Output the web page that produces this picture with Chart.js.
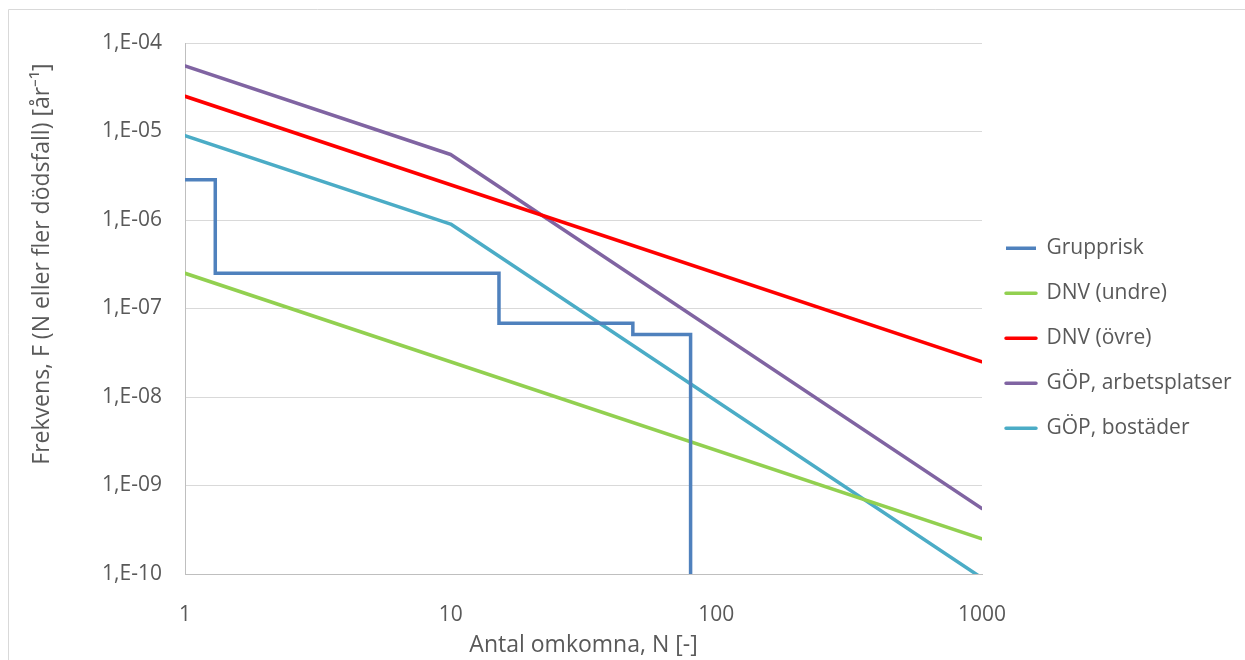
<!DOCTYPE html>
<html>
<head>
<meta charset="utf-8">
<script src="https://cdn.jsdelivr.net/npm/chart.js@4.4.1/dist/chart.umd.min.js"></script>
<style>
	html, body { margin: 0; padding: 0; background: #fff; }
	canvas { display: block; }
</style>
</head>
<body>
<canvas id="fnChart" width="1245" height="660"></canvas>
<script>
'use strict'

// N values (x)
const nDnv = [1, 1000];
const nGop = [1, 10, 1000];
const nGroup = [1, 1.3, 15.2, 48.5, 80];

// F values (y), per year
const fGroup = [2.85e-6, 2.5e-7, 6.8e-8, 5.1e-8, 1e-11];
const fDnvLow = [2.5e-7, 2.5e-10];
const fDnvHigh = [2.5e-5, 2.5e-8];
const fGopWork = [5.5e-5, 5.5e-6, 5.5e-10];
const fGopHome = [9e-6, 9e-7, 9e-11];

const seriesNames = ['Grupprisk', 'DNV (undre)', 'DNV (övre)', 'GÖP, arbetsplatser', 'GÖP, bostäder'];

// axis ticks
const xTicks = [1, 10, 100, 1000];
const xTickLabels = ['1', '10', '100', '1000'];
const yTicks = [1e-10, 1e-9, 1e-8, 1e-7, 1e-6, 1e-5, 1e-4];
const yTickLabels = ['1,E-10', '1,E-09', '1,E-08', '1,E-07', '1,E-06', '1,E-05', '1,E-04'];

const xTitle = 'Antal omkomna, N [-]';
const yTitle = 'Frekvens, F (N eller fler dödsfall) [år⁻¹]';

const fontFamily = '"Open Sans", "Liberation Sans", sans-serif';
const textColor = '#595959';
const colors = {
	group: '#4F81BD',
	dnvLow: '#92D050',
	dnvHigh: '#FF0000',
	gopWork: '#8064A2',
	gopHome: '#4BACC6',
	grid: '#D9D9D9',
	axis: '#BFBFBF',
};

const toPoints = (xs, ys) => xs.map((x, i) => ({ x: x, y: ys[i] }));

const lineSet = (label, xs, ys, color) => ({
	label: label,
	data: toPoints(xs, ys),
	borderColor: color,
	backgroundColor: color,
	borderWidth: 3.5,
	borderCapStyle: 'round',
	borderJoinStyle: 'round',
	pointRadius: 0,
	showLine: true,
	tension: 0,
});

const groupSet = lineSet(seriesNames[0], nGroup, fGroup, colors.group);
groupSet.stepped = 'before';
groupSet.borderCapStyle = 'butt';
groupSet.borderJoinStyle = 'miter';

const datasets = [
	groupSet,
	lineSet(seriesNames[1], nDnv, fDnvLow, colors.dnvLow),
	lineSet(seriesNames[2], nDnv, fDnvHigh, colors.dnvHigh),
	lineSet(seriesNames[3], nGop, fGopWork, colors.gopWork),
	lineSet(seriesNames[4], nGop, fGopHome, colors.gopHome),
];

// outer chart frame (only top and left edge are visible)
const frame = {
	id: 'frame',
	beforeDraw(chart) {
		const ctx = chart.ctx;
		ctx.save();
		ctx.strokeStyle = colors.grid;
		ctx.lineWidth = 1;
		ctx.beginPath();
		ctx.moveTo(8.5, chart.height);
		ctx.lineTo(8.5, 9.5);
		ctx.lineTo(chart.width, 9.5);
		ctx.stroke();
		ctx.restore();
	},
};

// y title sits a bit above the plot centre, so draw it by hand
const yTitlePlugin = {
	id: 'yTitle',
	afterDraw(chart) {
		const ctx = chart.ctx;
		ctx.save();
		ctx.translate(42, 264);
		ctx.rotate(-Math.PI / 2);
		ctx.font = '23px ' + fontFamily;
		ctx.fillStyle = textColor;
		ctx.textAlign = 'center';
		ctx.textBaseline = 'middle';
		ctx.fillText(yTitle, 0, 0);
		ctx.restore();
	},
};

const tickFont = { family: fontFamily, size: 21 };
const titleFont = { family: fontFamily, size: 23 };

const chart = new Chart(document.getElementById('fnChart'), {
	type: 'scatter',
	data: { datasets: datasets },
	options: {
		responsive: false,
		animation: false,
		events: [],
		layout: {
			padding: { top: 43, right: 12, bottom: 0, left: 0 },
		},
		plugins: {
			tooltip: { enabled: false },
			legend: {
				position: 'right',
				align: 'center',
				fullSize: false,
				title: {
					display: true,
					text: '',
					padding: { top: 22, bottom: 23 },
				},
				labels: {
					boxWidth: 30,
					boxHeight: 0,
					padding: 24,
					color: textColor,
					font: tickFont,
				},
			},
		},
		scales: {
			x: {
				type: 'logarithmic',
				min: 1,
				max: 1000,
				afterBuildTicks(scale) {
					scale.ticks = xTicks.map(v => ({ value: v }));
				},
				afterFit(scale) {
					scale.height = 86;
				},
				ticks: {
					autoSkip: false,
					maxRotation: 0,
					padding: 20,
					color: textColor,
					font: tickFont,
					callback: (value, index) => xTickLabels[index],
				},
				grid: { display: false },
				border: { display: true, color: colors.axis, width: 1 },
				title: {
					display: true,
					text: xTitle,
					color: textColor,
					font: titleFont,
					padding: { top: 0, bottom: 1 },
				},
			},
			y: {
				type: 'logarithmic',
				min: 1e-10,
				max: 1e-4,
				afterBuildTicks(scale) {
					scale.ticks = yTicks.map(v => ({ value: v }));
				},
				afterFit(scale) {
					scale.width = 185;
				},
				ticks: {
					autoSkip: false,
					padding: 23,
					color: textColor,
					font: tickFont,
					callback: (value, index) => yTickLabels[index],
				},
				grid: {
					color: colors.grid,
					lineWidth: 1,
					drawTicks: false,
				},
				border: { display: true, color: colors.axis, width: 1 },
			},
		},
	},
	plugins: [frame, yTitlePlugin],
});

// line the plot's right edge up with x = 982
const shift = chart.chartArea.right - 982;
if (Math.abs(shift) > 0.5) {
	chart.options.layout.padding.right += shift;
	chart.update();
}
</script>
</body>
</html>
